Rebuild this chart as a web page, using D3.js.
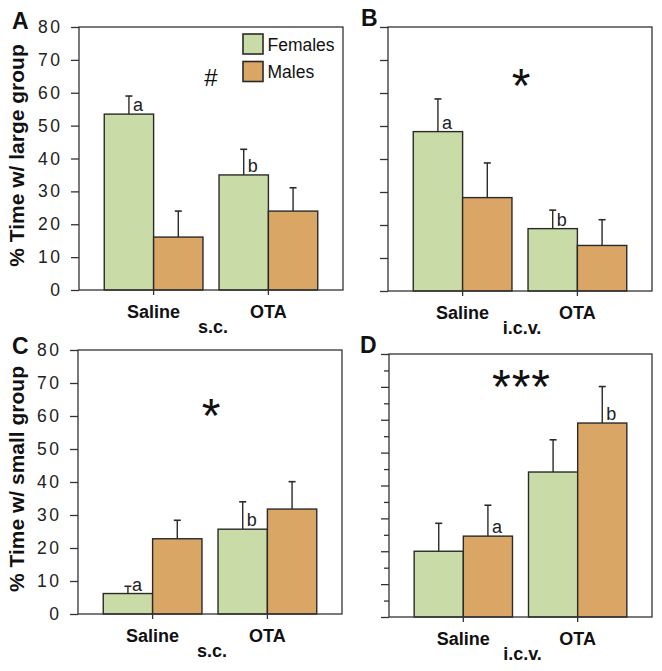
<!DOCTYPE html>
<html><head><meta charset="utf-8">
<script src="https://cdn.jsdelivr.net/npm/d3@7"></script>
<style>body{margin:0;background:#fff}svg{display:block}</style>
</head><body><div id="chart"></div>
<script>
const categories = ["Saline", "OTA"];
const series = ["Females", "Males"];
const yTicks = [0, 10, 20, 30, 40, 50, 60, 70, 80];

// panel A: time with large group, s.c.
const aFemales = [53.5, 35.0];
const aFemalesErr = [5.5, 7.8];
const aMales = [16.1, 24.0];
const aMalesErr = [7.9, 7.1];
// panel B: time with large group, i.c.v.
const bFemales = [48.3, 18.9];
const bFemalesErr = [9.9, 5.6];
const bMales = [28.3, 13.8];
const bMalesErr = [10.5, 7.8];
// panel C: time with small group, s.c.
const cFemales = [6.2, 25.7];
const cFemalesErr = [2.2, 8.3];
const cMales = [22.8, 31.8];
const cMalesErr = [5.6, 8.3];
// panel D: time with small group, i.c.v.
const dFemales = [20.0, 44.1];
const dFemalesErr = [8.5, 9.8];
const dMales = [24.6, 59.0];
const dMalesErr = [9.4, 11.1];

const colors = {Females: "#c9dba7", Males: "#d9a666"};
const stroke = "#2a2a2a";

const W = 662, H = 671;
const svg = d3.select("#chart").append("svg").attr("width", W).attr("height", H)
  .style("font-family", "'Liberation Sans', Arial, Helvetica, sans-serif");

const panels = [
  {id: "A", left: 79, top: 27, w: 264, h: 263, route: "s.c.", ylab: "% Time w/ large group", showY: true, minor: false,
   f: aFemales, fe: aFemalesErr, m: aMales, me: aMalesErr, letterOn: "Females", sig: "#", sigY: 64.5, legend: true, lx: 12, ly: 29},
  {id: "B", left: 388, top: 27, w: 264, h: 264, route: "i.c.v.", showY: false, minor: false,
   f: bFemales, fe: bFemalesErr, m: bMales, me: bMalesErr, letterOn: "Females", sig: "*", sigY: 66.5, lx: 361, ly: 26},
  {id: "C", left: 78, top: 350, w: 264, h: 264, route: "s.c.", ylab: "% Time w/ small group", showY: true, minor: false,
   f: cFemales, fe: cFemalesErr, m: cMales, me: cMalesErr, letterOn: "Females", sig: "*", sigY: 64.5, lx: 12, ly: 354},
  {id: "D", left: 389, top: 354, w: 263, h: 263, route: "i.c.v.", showY: false, minor: true,
   f: dFemales, fe: dFemalesErr, m: dMales, me: dMalesErr, letterOn: "Males", sig: "***", sigY: 74.5, lx: 360, ly: 353}
];
const letters = ["a", "b"];

panels.forEach(p => {
  const g = svg.append("g").attr("transform", `translate(${p.left},${p.top})`);
  const y = d3.scaleLinear().domain([0, 80]).range([p.h, 0]);
  const x0 = d3.scaleBand().domain(categories).range([0, p.w]).paddingInner(0.14).paddingOuter(0.22);
  const x1 = d3.scaleBand().domain(series).range([0, x0.bandwidth()]);

  const rows = [];
  categories.forEach((c, i) => {
    rows.push({cat: c, s: "Females", v: p.f[i], e: p.fe[i], i});
    rows.push({cat: c, s: "Males", v: p.m[i], e: p.me[i], i});
  });

  // bars
  g.selectAll("rect.bar").data(rows).join("rect").attr("class", "bar")
    .attr("x", d => x0(d.cat) + x1(d.s))
    .attr("y", d => y(d.v))
    .attr("width", x1.bandwidth())
    .attr("height", d => y(0) - y(d.v))
    .attr("fill", d => colors[d.s])
    .attr("stroke", stroke).attr("stroke-width", 1.4);

  // error bars
  const cx = d => x0(d.cat) + x1(d.s) + x1.bandwidth() / 2;
  g.selectAll("line.err").data(rows).join("line").attr("class", "err")
    .attr("x1", cx).attr("x2", cx)
    .attr("y1", d => y(d.v)).attr("y2", d => y(d.v + d.e))
    .attr("stroke", stroke).attr("stroke-width", 1.4);
  g.selectAll("line.cap").data(rows).join("line").attr("class", "cap")
    .attr("x1", d => cx(d) - 3.5).attr("x2", d => cx(d) + 3.5)
    .attr("y1", d => y(d.v + d.e)).attr("y2", d => y(d.v + d.e))
    .attr("stroke", stroke).attr("stroke-width", 1.6);

  // a / b letters
  g.selectAll("text.lt").data(rows.filter(d => d.s === p.letterOn)).join("text").attr("class", "lt")
    .attr("x", d => cx(d) + 4).attr("y", d => y(d.v) - 3)
    .attr("font-size", 18).attr("fill", "#222")
    .text(d => letters[d.i]);

  // frame
  g.append("rect").attr("x", 0).attr("y", 0).attr("width", p.w).attr("height", p.h)
    .attr("fill", "none").attr("stroke", "#333").attr("stroke-width", 1.3);

  // y ticks
  const yAxis = d3.axisLeft(y).tickValues(yTicks).tickSize(8).tickFormat(p.showY ? d3.format("d") : "");
  const ya = g.append("g").call(yAxis);
  ya.select(".domain").remove();
  ya.selectAll(".tick line").attr("stroke", "#333").attr("stroke-width", 1.3);
  ya.selectAll(".tick text").attr("font-size", 17.5).attr("fill", "#222")
    .attr("letter-spacing", "2.5px").attr("x", -16.5)
    .attr("font-family", "'Liberation Sans', Arial, sans-serif");
  if (p.minor) {
    const minor = d3.range(5, 80, 10);
    const ym = g.append("g").call(d3.axisLeft(y).tickValues(minor).tickSize(5).tickFormat(""));
    ym.select(".domain").remove();
    ym.selectAll(".tick line").attr("stroke", "#333").attr("stroke-width", 1.3);
  }

  // x ticks and labels
  const xa = g.append("g").attr("transform", `translate(0,${p.h})`)
    .call(d3.axisBottom(x0).tickSize(5).tickSizeOuter(0));
  xa.select(".domain").remove();
  xa.selectAll(".tick line").attr("stroke", "#333").attr("stroke-width", 1.3);
  xa.selectAll(".tick text").attr("y", 15).attr("dy", "0.71em")
    .attr("font-size", 18).attr("font-weight", "bold").attr("fill", "#111")
    .attr("font-family", "'Liberation Sans', Arial, sans-serif");
  g.append("text").attr("x", p.w / 2 + 2).attr("y", p.h + 43).attr("text-anchor", "middle")
    .attr("font-size", 18).attr("font-weight", "bold").attr("fill", "#111").text(p.route);

  // y title
  if (p.ylab) {
    g.append("text").attr("transform", `translate(${24 - p.left},${p.h / 2 - 3}) rotate(-90)`)
      .attr("text-anchor", "middle").attr("font-size", 21).attr("font-weight", "bold").attr("fill", "#111")
      .text(p.ylab);
  }

  // significance mark
  const isHash = p.sig === "#";
  g.append("text").attr("x", p.w / 2 + (isHash ? 0 : 1)).attr("y", y(p.sigY)).attr("text-anchor", "middle")
    .attr("dominant-baseline", "central")
    .attr("font-size", isHash ? 24 : 48).attr("fill", "#111")
    .attr("dy", isHash ? 0 : "0.3em")
    .attr("letter-spacing", p.sig === "***" ? "1px" : "0px")
    .text(p.sig);

  // legend
  if (p.legend) {
    const lg = g.append("g").attr("transform", `translate(${243 - p.left},${34 - p.top})`);
    series.forEach((s, i) => {
      lg.append("rect").attr("x", 0).attr("y", i * 27.5).attr("width", 20).attr("height", 20)
        .attr("fill", colors[s]).attr("stroke", stroke).attr("stroke-width", 1.6);
      lg.append("text").attr("x", 24.5).attr("y", i * 27.5 + 16.5).attr("font-size", 17.5).attr("fill", "#111").text(s);
    });
  }

  // panel letter
  svg.append("text").attr("x", p.lx).attr("y", p.ly).attr("font-size", 23).attr("font-weight", "bold")
    .attr("fill", "#111").text(p.id);
});
</script></body></html>
